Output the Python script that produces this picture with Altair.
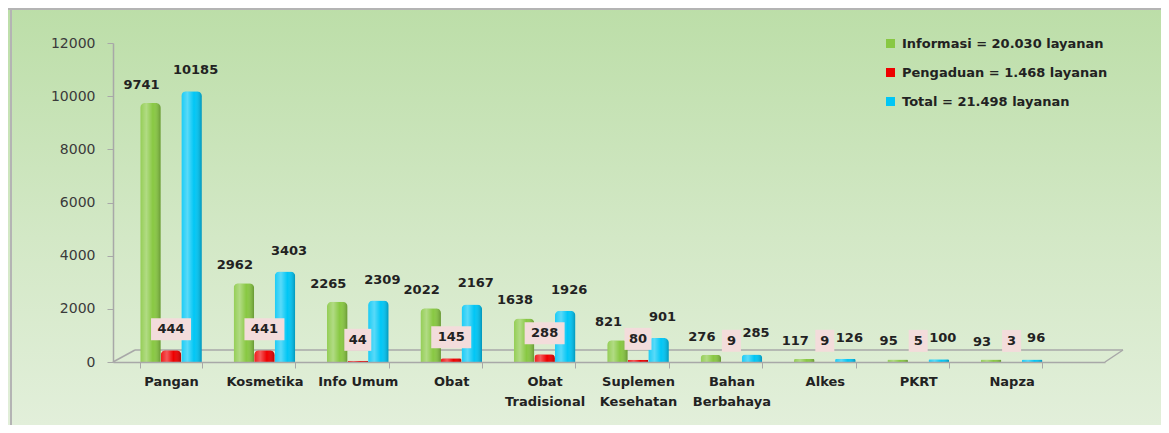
import altair as alt
import pandas as pd

categories = ["Pangan", "Kosmetika", "Info Umum", "Obat", "Obat Tradisional",
              "Suplemen Kesehatan", "Bahan Berbahaya", "Alkes", "PKRT", "Napza"]
series = ["Informasi", "Pengaduan", "Total"]
legend_labels = ["Informasi = 20.030 layanan", "Pengaduan = 1.468 layanan", "Total = 21.498 layanan"]
informasi = [9741, 2962, 2265, 2022, 1638, 821, 276, 117, 95, 93]
pengaduan = [444, 441, 44, 145, 288, 80, 9, 9, 5, 3]
total = [10185, 3403, 2309, 2167, 1926, 901, 285, 126, 100, 96]
y_ticks = [0, 2000, 4000, 6000, 8000, 10000, 12000]
colors = ["#88c842", "#ee0000", "#00c6f5"]

rows = []
for s, vals in zip(series, [informasi, pengaduan, total]):
    for c, v in zip(categories, vals):
        rows.append({"category": c, "series": s, "value": v, "digits": str(len(str(v)))})
df = pd.DataFrame(rows)

W, H = 992, 319
PL, PT, PR, PB = 105, 35, 56, 63
FONT = "DejaVu Sans"
AXIS_GRAY = "#a8a8a8"
TEXT = "#222222"

legend_expr = ""
for s, l in zip(series[:-1], legend_labels[:-1]):
    legend_expr += f"datum.label == '{s}' ? '{l}' : "
legend_expr += f"'{legend_labels[-1]}'"

x_enc = alt.X(
    "category:N", sort=categories, title=None,
    scale=alt.Scale(paddingInner=0.34, paddingOuter=0.4807, align=0.303),
    axis=alt.Axis(labelAngle=0, tickBand="extent", tickOffset=-11,
                  labelExpr="datum.label == 'Info Umum' ? datum.label : split(datum.label, ' ')",
                  labelLineHeight=20, labelFontWeight="bold", labelFontSize=13,
                  labelColor=TEXT, labelPadding=7, tickSize=6, labelFont=FONT,
                  domainColor=AXIS_GRAY, tickColor=AXIS_GRAY, domainWidth=1.5,
                  labelOverlap=False, zindex=1),
)
xo_enc = alt.XOffset("series:N", sort=series, scale=alt.Scale(paddingInner=0, paddingOuter=0))
y_enc = alt.Y(
    "value:Q", title=None,
    scale=alt.Scale(domain=[0, 12000], nice=False),
    axis=alt.Axis(values=y_ticks, format="d", grid=False, tickSize=6, labelPadding=12,
                  labelFontSize=14, labelColor="#3a3a3a", labelFont=FONT,
                  domainColor=AXIS_GRAY, tickColor=AXIS_GRAY, domainWidth=1.5,
                  zindex=1),
)

one = pd.DataFrame({"k": [0]})

bg_grad = alt.LinearGradient(
    gradient="linear",
    stops=[alt.GradientStop(color="#bcdea8", offset=0),
           alt.GradientStop(color="#d3e8c6", offset=0.55),
           alt.GradientStop(color="#e2efda", offset=1)],
    x1=0, x2=0, y1=0, y2=1,
)
bg = alt.Chart(one).mark_rect(color=bg_grad).encode(
    x=alt.value(-PL), x2=alt.value(W + PR), y=alt.value(-PT), y2=alt.value(H + PB)
)
frame_top = alt.Chart(one).mark_rule(color="#b4b4b4", strokeWidth=2).encode(
    x=alt.value(-PL), x2=alt.value(W + PR), y=alt.value(-PT + 1)
)
frame_left = alt.Chart(one).mark_rule(color="#b4b4b4", strokeWidth=2).encode(
    x=alt.value(-PL + 3), y=alt.value(-PT), y2=alt.value(H + PB)
)
floor_back = alt.Chart(one).mark_rule(color=AXIS_GRAY, strokeWidth=1.5).encode(
    x=alt.value(22), x2=alt.value(1010), y=alt.value(H - 12)
)
floor_left = alt.Chart(one).mark_rule(color=AXIS_GRAY, strokeWidth=1.5).encode(
    x=alt.value(0), y=alt.value(H), x2=alt.value(22), y2=alt.value(H - 12)
)
floor_right = alt.Chart(one).mark_rule(color=AXIS_GRAY, strokeWidth=1.5).encode(
    x=alt.value(W), y=alt.value(H), x2=alt.value(1010), y2=alt.value(H - 12)
)

base = alt.Chart(df)

bars = base.mark_bar(cornerRadiusTopLeft=5, cornerRadiusTopRight=5).encode(
    x=x_enc, xOffset=xo_enc, y=y_enc,
    color=alt.Color(
        "series:N",
        scale=alt.Scale(domain=series, range=colors),
        legend=alt.Legend(title=None, orient="none", legendX=771, legendY=-6,
                          symbolType="square", symbolSize=81, symbolStrokeWidth=0,
                          labelFontSize=13, labelFontWeight="bold", labelColor=TEXT,
                          labelFont=FONT, rowPadding=15, padding=0, labelOffset=5,
                          labelExpr=legend_expr, labelLimit=400),
    ),
)

shade = alt.LinearGradient(
    gradient="linear",
    stops=[alt.GradientStop(color="rgba(255,255,255,0.10)", offset=0),
           alt.GradientStop(color="rgba(255,255,255,0.35)", offset=0.3),
           alt.GradientStop(color="rgba(255,255,255,0.0)", offset=0.62),
           alt.GradientStop(color="rgba(0,0,0,0.25)", offset=1)],
    x1=0, x2=1, y1=0, y2=0,
)
overlay = base.mark_bar(cornerRadiusTopLeft=5, cornerRadiusTopRight=5, color=shade).encode(
    x=x_enc, xOffset=xo_enc, y=y_enc
)

box_paths = [
    "M-0.95,-1.1L0.95,-1.1L0.95,1.1L-0.95,1.1Z",
    "M-1.35,-1.1L1.35,-1.1L1.35,1.1L-1.35,1.1Z",
    "M-2,-1.1L2,-1.1L2,1.1L-2,1.1Z",
]
boxes = base.transform_filter(alt.datum.series == "Pengaduan").mark_point(
    filled=True, opacity=1, color="#f3dcdb", strokeWidth=0, yOffset=-21
).encode(
    x=x_enc, xOffset=xo_enc, y=y_enc,
    shape=alt.Shape("digits:N", scale=alt.Scale(domain=["1", "2", "3"], range=box_paths), legend=None),
    size=alt.value(400),
)


def labels(name, dx, dy):
    return base.transform_filter(alt.datum.series == name).mark_text(
        dx=dx, dy=dy, fontWeight="bold", fontSize=13, font=FONT, color=TEXT, baseline="middle"
    ).encode(x=x_enc, xOffset=xo_enc, y=y_enc, text=alt.Text("value:Q", format="d"))


chart = alt.layer(
    bg, frame_top, frame_left, floor_back, floor_left, floor_right,
    bars, overlay, boxes,
    labels("Informasi", -9, -18), labels("Pengaduan", 0, -21), labels("Total", 4, -21),
).properties(
    width=W, height=H,
    padding={"left": PL, "top": PT, "right": PR, "bottom": PB},
    autosize=alt.AutoSizeParams(type="none"),
    background="#d8eacf",
).configure_view(strokeWidth=0)

chart.save("out.html", embed_options={"renderer": "svg", "actions": False})
